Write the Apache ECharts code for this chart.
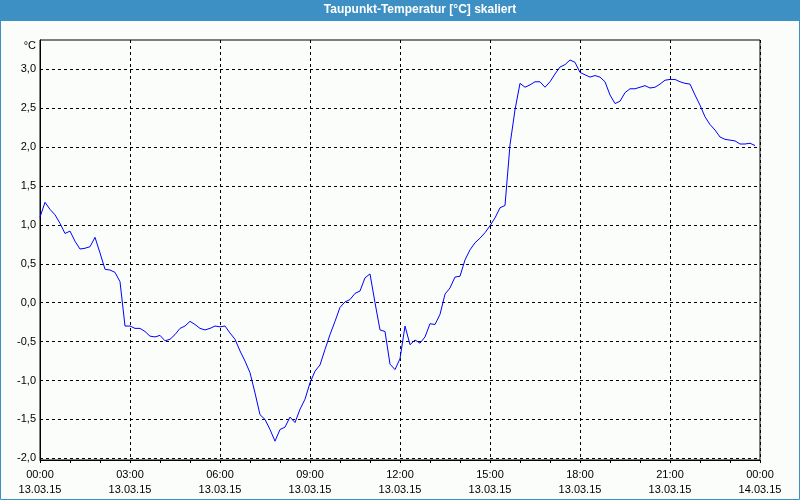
<!DOCTYPE html>
<html>
<head>
<meta charset="utf-8">
<script src="https://cdn.jsdelivr.net/npm/echarts@6/dist/echarts.min.js"></script>
<style>
html,body{margin:0;padding:0;background:#fbfdfb;}
#chart{width:800px;height:500px;}
</style>
</head>
<body>
<div id="chart"></div>
<script>
// Dew point temperature, 10-minute samples starting 13.03.15 00:00
const stepMinutes = 10;
const dewPoint = [
  1.10, 1.29, 1.20, 1.13, 1.02, 0.89, 0.92, 0.79, 0.69, 0.70,
  0.72, 0.84, 0.64, 0.43, 0.42, 0.39, 0.27, -0.30, -0.30, -0.33,
  -0.33, -0.37, -0.43, -0.44, -0.42, -0.49, -0.47, -0.41, -0.33, -0.30,
  -0.24, -0.28, -0.33, -0.35, -0.33, -0.30, -0.31, -0.30, -0.39, -0.47,
  -0.62, -0.75, -0.90, -1.16, -1.44, -1.50, -1.63, -1.78, -1.63, -1.60,
  -1.47, -1.54, -1.37, -1.24, -1.03, -0.88, -0.80, -0.60, -0.41, -0.24,
  -0.06, 0.01, 0.04, 0.12, 0.15, 0.32, 0.37, 0.00, -0.35, -0.37,
  -0.79, -0.86, -0.72, -0.30, -0.54, -0.48, -0.52, -0.44, -0.27, -0.28,
  -0.15, 0.11, 0.19, 0.33, 0.34, 0.55, 0.68, 0.77, 0.83, 0.90,
  0.99, 1.09, 1.22, 1.25, 2.03, 2.48, 2.82, 2.77, 2.80, 2.84,
  2.84, 2.77, 2.84, 2.94, 3.03, 3.06, 3.12, 3.09, 2.96, 2.93,
  2.90, 2.92, 2.90, 2.84, 2.67, 2.56, 2.59, 2.70, 2.75, 2.75,
  2.77, 2.79, 2.76, 2.77, 2.81, 2.86, 2.87, 2.87, 2.84, 2.82,
  2.81, 2.67, 2.54, 2.39, 2.29, 2.22, 2.13, 2.10, 2.09, 2.08,
  2.04, 2.04, 2.05, 2.02
];
const xTickLabels = [
  "00:00\n13.03.15", "03:00\n13.03.15", "06:00\n13.03.15", "09:00\n13.03.15",
  "12:00\n13.03.15", "15:00\n13.03.15", "18:00\n13.03.15", "21:00\n13.03.15",
  "00:00\n14.03.15"
];
const yTickValues = [-2.0, -1.5, -1.0, -0.5, 0.0, 0.5, 1.0, 1.5, 2.0, 2.5, 3.0];
const titleText = "Taupunkt-Temperatur [°C] skaliert";
const unitText = "°C";

const seriesData = dewPoint.map((v, i) => [i * stepMinutes, v]);
const FONT = "'Liberation Sans', Arial, sans-serif";

const chart = echarts.init(document.getElementById('chart'), null, {renderer: 'canvas'});
chart.setOption({
  animation: false,
  backgroundColor: '#fbfdfb',
  graphic: [
    {type: 'rect', shape: {x: 0, y: 0, width: 800, height: 21}, style: {fill: '#3d90c4'}, z: 0},
    {type: 'rect', shape: {x: 0.5, y: 0.5, width: 799, height: 499}, style: {fill: null, stroke: '#3d90c4', lineWidth: 1}, z: 0},
    {type: 'text', x: 420, y: 10, style: {text: titleText, fill: '#ffffff', font: "bold 12px " + FONT, align: 'center', verticalAlign: 'middle'}, z: 10},
    {type: 'text', x: 36, y: 46, style: {text: unitText, fill: '#000', font: "11px " + FONT, align: 'right', verticalAlign: 'middle'}, z: 10}
  ],
  grid: {left: 40, right: 40, top: 40, bottom: 40, show: true, borderColor: '#000', borderWidth: 1, backgroundColor: 'transparent'},
  xAxis: {
    type: 'value', min: 0, max: 1440, interval: 180,
    axisLine: {show: true, onZero: false, lineStyle: {color: '#000', width: 1}},
    axisTick: {show: true, length: 3, lineStyle: {color: '#000'}},
    minorTick: {show: true, splitNumber: 3, length: 3, lineStyle: {color: '#000'}},
    splitLine: {show: true, lineStyle: {color: '#000', type: [3, 3], width: 1}},
    axisLabel: {
      show: true, margin: 7, color: '#000', fontSize: 11, fontFamily: FONT, lineHeight: 15,
      showMinLabel: true, showMaxLabel: true, hideOverlap: false,
      formatter: function (v) { return xTickLabels[Math.round(v / 180)] || ''; }
    }
  },
  yAxis: {
    type: 'value', min: -2.022, max: 3.377,
    axisLine: {show: true, onZero: false, lineStyle: {color: '#000', width: 1}},
    axisTick: {show: false},
    splitLine: {show: false},
    axisLabel: {
      show: true, margin: 4, color: '#000', fontSize: 11, fontFamily: FONT,
      customValues: yTickValues,
      formatter: function (v) { return v.toFixed(1).replace('.', ','); }
    }
  },
  series: [
    {
      type: 'line', data: [], z: 1, silent: true,
      markLine: {
        silent: true, symbol: ['none', 'none'], label: {show: false},
        lineStyle: {color: '#000', type: [3, 3], width: 1},
        emphasis: {disabled: true},
        data: yTickValues.map(v => ({yAxis: v}))
      }
    },
    {
      type: 'line', data: seriesData, z: 5, showSymbol: false, smooth: false,
      lineStyle: {color: '#0000ff', width: 1}, itemStyle: {color: '#0000ff'},
      emphasis: {disabled: true}
    }
  ]
});
</script>
</body>
</html>
